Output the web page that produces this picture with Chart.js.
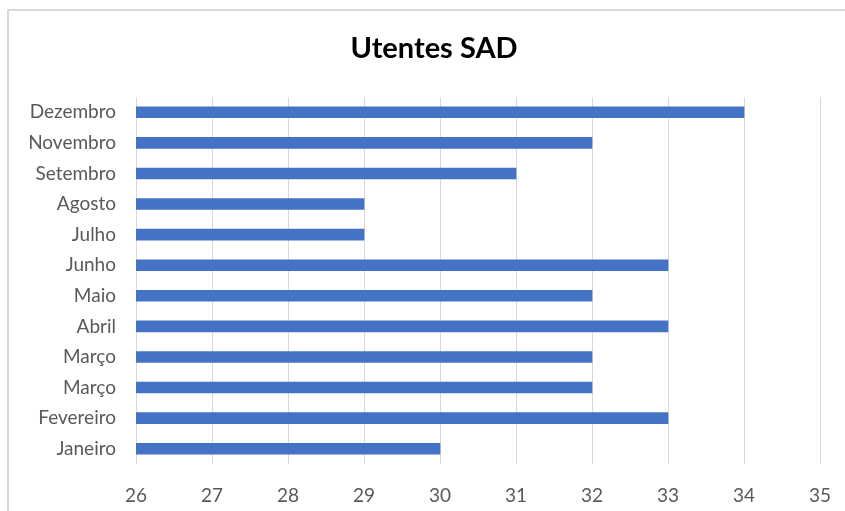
<!DOCTYPE html>
<html>
<head>
<meta charset="utf-8">
<script src="https://cdn.jsdelivr.net/npm/chart.js@4/dist/chart.umd.min.js"></script>
<style>
    body { margin: 0; background: #fff; }
    #frame {
        position: absolute; left: 7px; top: 9px; width: 900px; height: 600px;
        border-top: 2px solid #d9d9d9; border-left: 2px solid #d9d9d9;
    }
    #chart { position: absolute; left: 0; top: 0; }
</style>
</head>
<body>
<div id="frame"></div>
<canvas id="chart" width="845" height="511"></canvas>
<script>
// Data
const months = ['Dezembro', 'Novembro', 'Setembro', 'Agosto', 'Julho', 'Junho',
                'Maio', 'Abril', 'Março', 'Março', 'Fevereiro', 'Janeiro'];
const utentes = [34, 32, 31, 29, 29, 33, 32, 33, 32, 32, 33, 30];
const xMin = 26;
const xMax = 35;
const chartTitle = 'Utentes SAD';

const labelFont = { family: 'Lato', size: 19 };

// title is centred on the Excel frame, not on the canvas
const titlePlugin = {
    id: 'frameTitle',
    afterDraw(chart) {
        const ctx = chart.ctx;
        ctx.save();
        ctx.font = 'bold 29px Lato';
        ctx.fillStyle = '#000';
        ctx.textAlign = 'center';
        ctx.textBaseline = 'middle';
        ctx.fillText(chartTitle, 434, 49);
        ctx.restore();
    }
};

new Chart(document.getElementById('chart'), {
    type: 'bar',
    data: {
        labels: months,
        datasets: [{
            label: chartTitle,
            data: utentes,
            backgroundColor: '#4472C4',
            barThickness: 11
        }]
    },
    options: {
        indexAxis: 'y',
        responsive: false,
        animation: false,
        layout: { padding: { left: 0, right: 25, top: 97, bottom: 0 } },
        plugins: {
            legend: { display: false },
            tooltip: { enabled: false },
            title: { display: false }
        },
        scales: {
            x: {
                min: xMin,
                max: xMax,
                ticks: { stepSize: 1, color: '#595959', font: labelFont, padding: 20 },
                grid: { color: '#d9d9d9', drawTicks: false },
                border: { display: false },
                afterFit: scale => {
                    scale.height = 47;
                    // tick padding is meant to be vertical only
                    scale.paddingLeft = 0;
                    scale.paddingRight = 0;
                }
            },
            y: {
                ticks: { color: '#595959', font: labelFont, padding: 20 },
                grid: { display: false, drawTicks: false },
                border: { display: false },
                afterFit: scale => { scale.width = 136; }
            }
        }
    },
    plugins: [titlePlugin]
});
</script>
</body>
</html>
